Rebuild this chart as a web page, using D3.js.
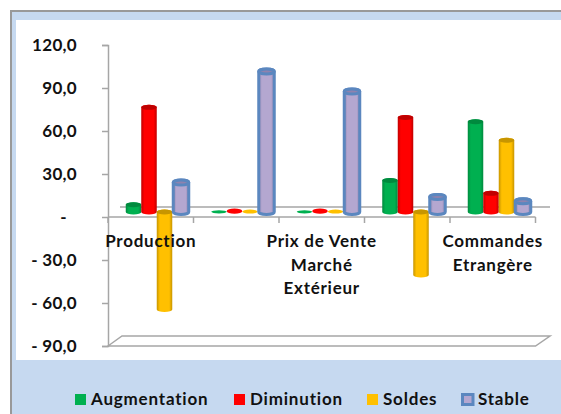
<!DOCTYPE html>
<html><head><meta charset="utf-8">
<script src="https://cdn.jsdelivr.net/npm/d3@7"></script>
<style>html,body{margin:0;padding:0;background:#fff}svg{display:block}text{font-family:Lato,sans-serif;font-weight:700;fill:#111}</style>
</head><body><div id="c"></div>
<script>
const categories = [["Production"], [], ["Prix de Vente","Marché","Extérieur"], [], ["Commandes","Etrangère"]];
const seriesNames = ["Augmentation","Diminution","Soldes","Stable"];
const augmentation = [5, 0.1, 0.1, 22, 63];
const diminution = [73, 0.6, 0.6, 66, 13];
const soldes = [-68, 0.3, 0.3, -44, 50];
const stable = [20.5, 98, 84, 10.5, 7.5];
const seriesValues = [augmentation, diminution, soldes, stable];
const colors = ["#00B050","#FF0000","#FFC000","#B4A7D0"];
const darks = ["#008A3E","#C00000","#C79500","#8F82AE"];
const yTicks = [120,90,60,30,0,-30,-60,-90];
const yLabels = ["120,0","90,0","60,0","30,0","-","- 30,0","- 60,0","- 90,0"];

const W=561,H=414;
const svg=d3.select("#c").append("svg").attr("width",W).attr("height",H);
const defs=svg.append("defs");
colors.forEach((c,i)=>{
  const g=defs.append("linearGradient").attr("id","g"+i);
  g.append("stop").attr("offset","0").attr("stop-color",darks[i]);
  g.append("stop").attr("offset","0.2").attr("stop-color",c);
  g.append("stop").attr("offset","0.8").attr("stop-color",c);
  g.append("stop").attr("offset","1").attr("stop-color",darks[i]);
});
// frame
svg.append("rect").attr("x",11).attr("y",11).attr("width",W).attr("height",H).attr("fill","#C6D9F0").attr("stroke","#999").attr("stroke-width",2);
svg.append("rect").attr("x",16).attr("y",20).attr("width",W-16).attr("height",340).attr("fill","#fff");

const y=d3.scaleLinear().domain([-90,120]).range([346,45]);
const x=d3.scaleBand().domain(d3.range(categories.length)).range([108,535.5]);
const inner=d3.scaleBand().domain(d3.range(4)).range([0,62]);
const dx=6, dy=-5, pad=(x.step()-62)/2;
const grey="#A6A6A6";

// floor
const floorY=y(-90);
const floor=[[x.range()[0],floorY],[x.range()[0]+14,floorY-10],[x.range()[1]+14.5,floorY-10],[x.range()[1],floorY]];
svg.append("path").attr("d",d3.line()(floor)+"Z").attr("fill","#fff").attr("stroke",grey).attr("stroke-width",1.5);
// back zero line
svg.append("line").attr("x1",x.range()[0]+12).attr("x2",x.range()[1]+14.5).attr("y1",y(0)-10).attr("y2",y(0)-10).attr("stroke",grey).attr("stroke-width",1.5);

// y axis
const ax=svg.append("g").attr("transform","translate(108,0)")
  .call(d3.axisLeft(y).tickValues(yTicks).tickSize(6).tickPadding(25).tickFormat((d,i)=>yLabels[i]));
ax.selectAll("path,line").attr("stroke",grey).attr("stroke-width",1.5);
ax.selectAll("text").style("font-size","17px").style("letter-spacing","0.3px").attr("fill","#111").attr("x",-31);
ax.selectAll("text").filter((d)=>d===0).attr("x",-41);

// zero line and category ticks
svg.append("line").attr("x1",x.range()[0]).attr("x2",x.range()[1]).attr("y1",y(0)).attr("y2",y(0)).attr("stroke",grey).attr("stroke-width",1.5);
svg.selectAll(".tk").data(d3.range(categories.length+1)).join("line")
  .attr("x1",i=>x.range()[0]+i*x.step()).attr("x2",i=>x.range()[0]+i*x.step())
  .attr("y1",y(0)).attr("y2",y(0)+6).attr("stroke",grey).attr("stroke-width",1.5);

// cylinders
seriesValues.forEach((vals,s)=>{
  vals.forEach((v,c)=>{
    const isStable=s===3;
    const flat=Math.abs(v)<2;
    const ry=flat?1.4+2*Math.abs(v):2.5;
    const w=inner.bandwidth();
    const x0=x(c)+pad+dx+inner(s)+(isStable?1:0);
    const rx=w/2, cx=x0+rx;
    const yb=y(0)+dy, yt=y(v)+dy;
    const g=svg.append("g");
    const st=isStable?"#5B87BF":"none", sw=isStable?3:0;
    const low=Math.max(yb,yt), high=Math.min(yb,yt);
    if(!flat){
      g.append("path")
        .attr("d",`M${cx-rx},${high}L${cx-rx},${low}A${rx},${ry} 0 0 0 ${cx+rx},${low}L${cx+rx},${high}A${rx},${ry} 0 0 0 ${cx-rx},${high}Z`)
        .attr("fill",`url(#g${s})`).attr("stroke",st).attr("stroke-width",sw);
    }
    g.append("ellipse").attr("cx",cx).attr("cy",high).attr("rx",rx).attr("ry",ry)
      .attr("fill",flat?colors[s]:darks[s]).attr("stroke",st).attr("stroke-width",sw);
  });
});

// category labels
categories.forEach((lines,c)=>{
  lines.forEach((t,i)=>{
    svg.append("text").attr("x",x(c)+x.bandwidth()/2).attr("y",247+i*23.5)
      .attr("text-anchor","middle").style("font-size","17px").style("letter-spacing","0.75px").text(t);
  });
});

// legend
const legendX=[75,234,367,461], legendT=[91,250,383,478];
seriesNames.forEach((n,i)=>{
  if(i===3){
    svg.append("rect").attr("x",legendX[i]+1.5).attr("y",394.5).attr("width",10.5).attr("height",10).attr("fill",colors[i]).attr("stroke","#5B87BF").attr("stroke-width",3);
  } else {
    svg.append("rect").attr("x",legendX[i]).attr("y",394).attr("width",11).attr("height",11).attr("fill",colors[i]);
  }
  svg.append("text").attr("x",legendT[i]).attr("y",405).style("font-size","17px").style("letter-spacing","0.8px").text(n);
});
</script></body></html>
